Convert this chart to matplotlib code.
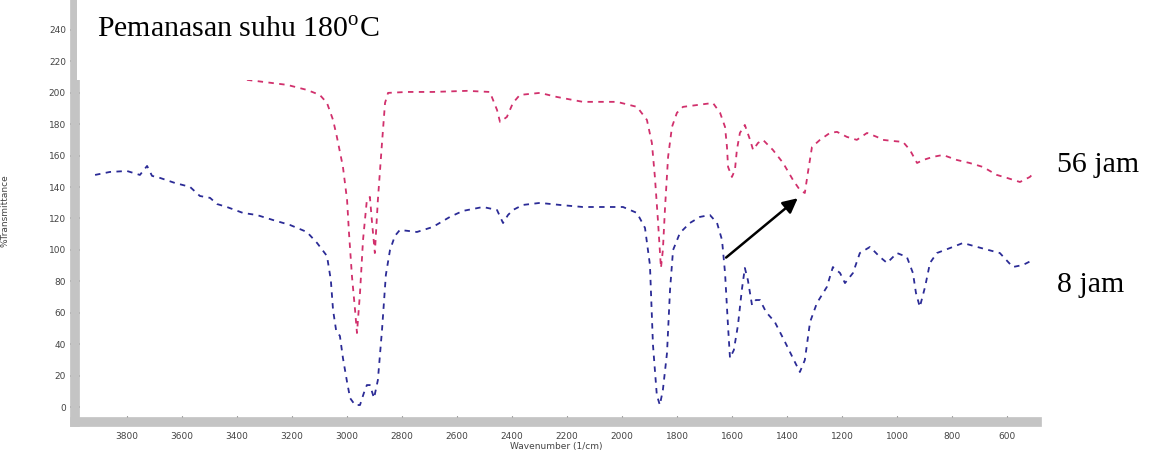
import numpy as np
import matplotlib
matplotlib.use("Agg")
import matplotlib.pyplot as plt
from matplotlib.patches import Rectangle

plt.rcParams['mathtext.fontset'] = 'custom'
plt.rcParams['mathtext.rm'] = 'Liberation Serif'

# FTIR spectra (wavenumber 1/cm, %T)
wn_8jam = [3916, 3862, 3800, 3753, 3727, 3709, 3680, 3626, 3571, 3535, 3498, 3473, 3437,
           3378, 3328, 3269, 3208, 3146, 3109, 3073, 3059, 3051, 3040, 3026, 3015, 3000,
           2989, 2971, 2953, 2939, 2928, 2917, 2902, 2888, 2873, 2859, 2844, 2826, 2808,
           2746, 2688, 2626, 2579, 2506, 2455, 2433, 2415, 2397, 2361, 2299, 2226, 2143,
           2099, 1997, 1946, 1917, 1899, 1888, 1874, 1863, 1852, 1837, 1826, 1815, 1790,
           1754, 1717, 1681, 1655, 1637, 1626, 1615, 1608, 1594, 1579, 1565, 1554, 1543,
           1528, 1514, 1499, 1477, 1445, 1408, 1372, 1354, 1336, 1317, 1292, 1256, 1234,
           1208, 1190, 1161, 1136, 1099, 1063, 1037, 1001, 965, 943, 932, 918, 899, 881,
           856, 808, 761, 710, 627, 580, 543, 507]
t_8jam = [147.7, 149.6, 150.2, 147.7, 153.4, 147.1, 145.8, 142.6, 140.1, 134.3, 133.1, 129.2,
          127.3, 123.5, 122.2, 119.0, 115.9, 111.4, 104.4, 96.1, 80.8, 61.8, 49.0, 45.2,
          31.2, 15.9, 5.7, 1.3, 1.3, 8.9, 14.0, 14.0, 5.7, 17.2, 49.0, 84.0, 99.9, 108.9,
          112.7, 111.4, 114.6, 121.0, 124.8, 127.3, 125.4, 117.1, 122.2, 125.4, 128.6,
          129.9, 128.6, 127.3, 127.3, 127.3, 123.5, 114.0, 90.4, 39.5, 7.6, 1.3, 10.8,
          34.4, 74.5, 99.9, 110.8, 117.1, 121.0, 122.2, 117.1, 106.3, 85.3, 50.9, 31.2,
          36.3, 52.2, 74.5, 88.5, 80.8, 64.9, 68.1, 68.1, 60.5, 54.1, 41.4, 28.6, 22.3,
          29.9, 54.1, 66.2, 76.4, 89.1, 85.3, 78.9, 85.3, 98.0, 101.9, 95.5, 91.7, 98.0,
          95.5, 85.3, 72.6, 63.7, 76.4, 91.7, 98.0, 101.2, 104.4, 101.9, 98.0, 89.1,
          90.4, 93.6]

wn_56jam = [3364, 3218, 3146, 3099, 3073, 3051, 3037, 3015, 3000, 2993, 2982, 2971, 2964,
            2953, 2942, 2928, 2917, 2910, 2899, 2888, 2873, 2862, 2851, 2782, 2688, 2564,
            2481, 2455, 2444, 2419, 2397, 2372, 2299, 2237, 2143, 2019, 1946, 1910, 1892,
            1881, 1870, 1859, 1852, 1844, 1833, 1819, 1801, 1779, 1670, 1644, 1626, 1619,
            1615, 1601, 1590, 1583, 1572, 1554, 1535, 1524, 1506, 1488, 1452, 1415, 1379,
            1354, 1336, 1325, 1310, 1281, 1245, 1219, 1183, 1147, 1110, 1074, 1052, 1016,
            979, 954, 928, 906, 870, 834, 783, 737, 689, 638, 601, 554, 518, 500]
t_56jam = [208.2, 205.0, 201.8, 198.6, 193.5, 182.7, 171.9, 152.8, 131.8, 110.8, 82.8, 61.8,
           47.1, 72.6, 106.3, 131.8, 133.7, 119.0, 98.0, 131.8, 168.1, 193.5, 199.9, 200.5,
           200.5, 201.2, 200.5, 189.1, 181.4, 184.6, 193.5, 198.6, 199.9, 197.3, 194.2,
           194.2, 191.0, 182.7, 168.1, 146.4, 119.0, 88.5, 99.9, 127.3, 159.2, 178.2,
           187.2, 191.0, 193.5, 187.2, 178.2, 165.5, 152.8, 146.4, 150.9, 163.6, 174.4,
           179.5, 170.0, 163.6, 168.1, 170.0, 163.6, 155.3, 144.5, 138.1, 136.2, 149.0,
           165.5, 170.0, 174.4, 175.1, 171.9, 170.0, 174.4, 171.9, 170.0, 169.3, 168.7,
           163.6, 155.3, 157.2, 159.2, 160.4, 157.2, 155.3, 152.8, 147.7, 145.8, 143.2,
           146.4, 149.6]

xticks = list(range(3800, 500, -200))
yticks = list(range(0, 241, 20))

W, H = 1153, 450
fig = plt.figure(figsize=(W / 100, H / 100), dpi=100)
ax = fig.add_axes([75 / W, 28 / H, 962 / W, 422 / H])

ax.plot(wn_56jam, t_56jam, color='#d1306c', lw=1.3, ls=(0, (3, 3)))
ax.plot(wn_8jam, t_8jam, color='#2b2b96', lw=1.3, ls=(0, (3, 3)))

ax.set_xlim(3989, 492)
ax.set_ylim(-9.5, 259)

for s in ['top', 'right']:
    ax.spines[s].set_visible(False)
for s in ['left', 'bottom']:
    ax.spines[s].set_color('#c4c4c4')
    ax.spines[s].set_linewidth(7)

ax.set_xticks(xticks)
ax.set_xticklabels([str(v) for v in xticks])
ax.set_yticks(yticks)
ax.set_yticklabels([str(v) for v in yticks])
ax.tick_params(axis='x', direction='in', length=4, pad=7, labelsize=6.5,
               colors='#444444')
ax.tick_params(axis='y', direction='inout', length=7, width=1.2, pad=3,
               labelsize=6.5, colors='#444444')

ax.set_xlabel('Wavenumber (1/cm)', fontsize=6.5, color='#444444')
ax.xaxis.set_label_coords(0.5, -0.048)
ax.set_ylabel('%Transmittance', fontsize=6.5, color='#444444')
ax.yaxis.set_label_coords(-0.068, 0.5)

# arrow from the 8 jam band to the 56 jam band
ax.annotate('', xy=(1354, 134), xytext=(1630, 94),
            arrowprops=dict(arrowstyle='-|>', lw=1.8, color='black',
                            mutation_scale=22))

# white caption box over the top left corner
fig.patches.append(Rectangle((77 / W, 1 - 80 / H), 340 / W, 80 / H,
                             transform=fig.transFigure, facecolor='white',
                             edgecolor='none', zorder=5))
fig.text(97 / W, 1 - 38 / H, r'Pemanasan suhu 180$^{\mathrm{o}}$C',
         family='Liberation Serif', fontsize=21.5, va='baseline', zorder=6)
fig.text(1057 / W, 1 - 172 / H, '56 jam', family='Liberation Serif',
         fontsize=21.5, va='baseline')
fig.text(1057 / W, 1 - 292 / H, '8 jam', family='Liberation Serif',
         fontsize=21.5, va='baseline')

fig.savefig('out.png', dpi=100)
